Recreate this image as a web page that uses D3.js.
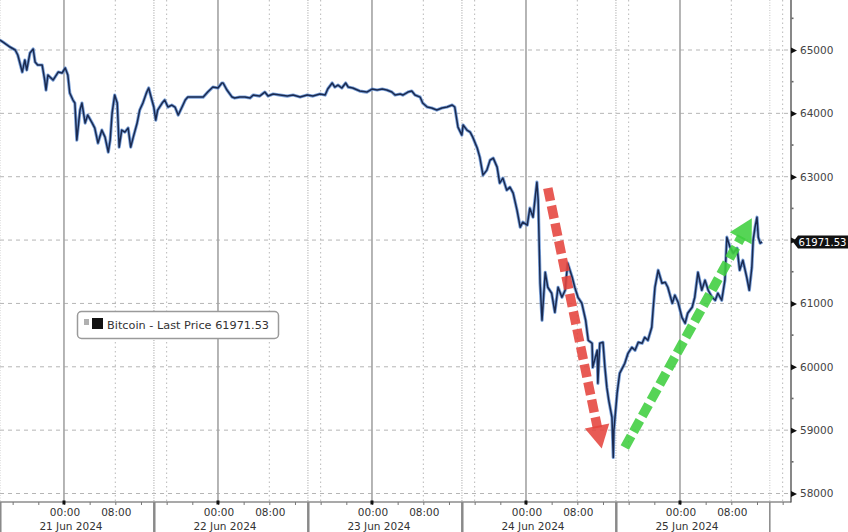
<!DOCTYPE html>
<html><head><meta charset="utf-8">
<script src="https://cdn.jsdelivr.net/npm/d3@7/dist/d3.min.js"></script>
<style>
html,body{margin:0;padding:0;background:#fff;}
svg{display:block;font-family:"DejaVu Sans",Verdana,sans-serif;}
</style></head>
<body><svg id="c" width="848" height="532"></svg>
<script>
// hours since 21 Jun 2024 00:00 (UTC)
const hoursFromStart = [
-10.0,-9.5,-8.4,-7.6,-7.2,-6.5,-6.1,-5.8,-5.3,-4.8,-4.5,-4.1,-3.4,-3.0,-2.8,-2.5,-1.7,-0.9,-0.3,0.2,
0.6,0.9,1.4,1.7,2.0,2.5,2.8,3.3,3.7,4.4,4.8,5.3,5.9,6.4,6.9,7.2,7.5,7.9,8.3,8.6,
9.0,9.5,10.0,10.4,10.8,11.4,11.8,12.3,12.9,13.2,13.7,14.0,14.3,14.6,15.3,15.7,16.2,16.8,17.3,17.8,
18.4,18.9,19.3,20.1,20.9,21.7,22.4,23.2,24.0,24.6,24.8,25.4,26.2,26.6,27.4,28.2,29.0,
29.5,30.5,31.3,31.8,32.6,33.7,34.8,35.7,36.8,37.9,38.8,39.9,40.7,41.1,41.8,42.2,42.7,43.3,43.9,44.3,
45.0,46.1,47.2,48.0,48.8,49.6,50.3,51.1,51.6,52.4,52.8,53.6,54.2,54.7,55.5,55.9,56.6,57.3,58.1,58.9,
59.7,60.5,60.9,
61.4,62.0,62.2,62.8,63.3,63.7,64.4,64.8,65.3,65.9,66.4,66.9,67.5,67.9,68.4,69.0,69.5,70.0,70.6,71.1,
71.5,72.2,72.6,73.1,73.7,73.9,74.2,74.5,75.0,75.4,76.0,76.5,77.0,77.6,78.1,78.5,79.2,79.6,80.1,80.7,
81.3,81.7,82.3,82.4,83.1,83.2,83.5,84.0,84.3,84.6,84.9,85.4,85.6,85.7,86.2,86.6,87.4,87.9,88.5,89.0,
89.5,90.1,90.5,91.0,91.6,91.8,92.1,92.6,93.2,93.7,94.1,94.8,95.2,95.7,96.3,96.8,97.2,97.9,98.3,98.8,
99.4,99.9,100.4,101.0,101.5,101.9,102.5,103.0,103.3,103.8,104.3,104.9,105.3,105.8,106.4,106.8,107.2,107.4,107.7,108.0,
108.2,108.5,108.8
];
const bitcoinPrice = [
65158,65126,65047,65000,64921,64652,64842,64684,64953,65016,64810,64763,64763,64526,64368,64605,64526,64652,64637,64716,
64605,64321,64210,64163,63578,64052,64163,63847,63973,63847,63768,63531,63736,63625,63388,63578,64005,64289,64163,63467,
63736,63704,63768,63467,63625,63847,64052,64163,64336,64400,64210,64100,63894,64052,64163,64210,64100,64131,64100,63973,
64100,64210,64257,64257,64257,64257,64336,64415,64400,64479,64479,64368,64257,64242,64257,64257,64242,
64289,64273,64336,64273,64305,64289,64273,64289,64257,64289,64273,64305,64289,64384,64479,64415,64447,64400,64479,64415,
64400,64352,64336,64384,64368,64384,64368,64336,64289,64305,64289,64336,64352,64289,64257,64163,64100,64084,64052,64084,
64100,64131,64100,
63783,63657,63815,63736,63704,63625,63452,63309,63025,63104,63262,63294,63151,62899,62978,62788,62835,62741,62472,62203,
62282,62235,62504,62361,62914,62630,61319,60734,61492,61255,61161,60860,61255,61097,61208,61635,61413,61255,61097,61003,
60734,60418,60371,59991,60260,59739,60371,60386,59991,59675,59470,59201,58569,58996,59581,59897,60055,60213,60307,60260,
60386,60371,60465,60418,60623,60892,61255,61524,61319,61334,61255,61003,61129,61018,60781,60687,60845,60939,61097,61492,
61208,61366,61208,61097,61050,61161,61050,61366,62045,61887,61793,61871,61524,61682,61413,61208,61571,61998,62203,62361,
62045,61951,61971.53
];
const priceTicks = [58000,59000,60000,61000,62000,63000,64000,65000];
const dayLabels = ["21 Jun 2024","22 Jun 2024","23 Jun 2024","24 Jun 2024","25 Jun 2024"];
const timeLabels = ["00:00","08:00"];
const lastPrice = 61971.53;
const legendText = "Bitcoin - Last Price 61971.53";
// annotation arrows: [startHour, startPrice, endHour, endPrice]
const redArrow = [75.4, 62820, 83.8, 58711];
const greenArrow = [87.4, 58727, 107.2, 62346];

const H = 3600e3;
const base = Date.UTC(2024,5,21,0,0);
const toDate = h => new Date(base + h*H);

const svg = d3.select("#c");
const plotRight = 791, plotBottom = 502;
const x = d3.scaleUtc().domain([toDate(-9.97), toDate(113.3)]).range([0, plotRight]);
const y = d3.scaleLinear().domain([58000, 65000]).range([493.5, 50]);

// horizontal grid
svg.append("g").selectAll("line").data(priceTicks).join("line")
  .attr("x1",0).attr("x2",plotRight).attr("y1",d=>y(d)).attr("y2",d=>y(d))
  .attr("stroke","#b5b5b5").attr("stroke-width",1).attr("stroke-dasharray","4,4");

// vertical grids
const days = d3.range(0,5);
const g = svg.append("g");
days.forEach(d=>{
  [8,16].forEach(hh=>{
    const xx = x(toDate(d*24+hh));
    if (xx < plotRight) g.append("line").attr("x1",xx).attr("x2",xx).attr("y1",0).attr("y2",plotBottom)
      .attr("stroke","#b8b8b8").attr("stroke-width",1).attr("stroke-dasharray","1.5,3");
  });
  [-10+0.03, 14].forEach(hh=>{
    const xx = x(toDate(d*24+hh));
    if (xx>=0 && xx < plotRight) g.append("line").attr("x1",xx).attr("x2",xx).attr("y1",0).attr("y2",plotBottom)
      .attr("stroke","#c4c4c4").attr("stroke-width",1).attr("stroke-dasharray","1,1.5");
  });
  const x0 = x(toDate(d*24));
  g.append("line").attr("x1",x0).attr("x2",x0).attr("y1",0).attr("y2",plotBottom)
    .attr("stroke","#a3a3a3").attr("stroke-width",1.6);
});

// price line
const data = hoursFromStart.map((h,i)=>({t:toDate(h), v:bitcoinPrice[i]}));
const line = d3.line().x(d=>x(d.t)).y(d=>y(d.v));
svg.append("path").datum(data).attr("d",line).attr("fill","none")
  .attr("stroke","#5a8ad0").attr("stroke-width",3.2).attr("stroke-linejoin","round").attr("opacity",0.8);
svg.append("path").datum(data).attr("d",line).attr("fill","none")
  .attr("stroke","#1a2a50").attr("stroke-width",1.5).attr("stroke-linejoin","round");

// arrows
function arrow(a, color){
  const x1=x(toDate(a[0])), y1=y(a[1]), x2=x(toDate(a[2])), y2=y(a[3]);
  const dx=x2-x1, dy=y2-y1, L=Math.hypot(dx,dy), ux=dx/L, uy=dy/L, px=-uy, py=ux;
  const headL=23, headW=12.5;
  const bx=x2-ux*headL, by=y2-uy*headL;
  svg.append("line").attr("x1",x1).attr("y1",y1).attr("x2",bx+ux*2).attr("y2",by+uy*2)
    .attr("stroke",color).attr("stroke-width",9.5).attr("stroke-dasharray","13,5").attr("opacity",0.88);
  svg.append("path").attr("d",`M${x2},${y2}L${bx+px*headW},${by+py*headW}L${bx-px*headW},${by-py*headW}Z`)
    .attr("fill",color).attr("opacity",0.88);
}
arrow(redArrow, "#e5443d");
arrow(greenArrow, "#3fcf3f");

// bottom axis
svg.append("line").attr("x1",0).attr("x2",plotRight).attr("y1",plotBottom).attr("y2",plotBottom)
  .attr("stroke","#555").attr("stroke-width",1.2);
const xAxis = d3.axisBottom(x).ticks(d3.utcHour.every(4)).tickSize(3).tickFormat("");
const xa = svg.append("g").attr("transform",`translate(0,${plotBottom})`).call(xAxis);
xa.select(".domain").remove();
xa.selectAll(".tick line").attr("stroke","#777");
days.forEach((d,i)=>{
  const x0 = x(toDate(d*24));
  svg.append("rect").attr("x",x0-1.5).attr("y",plotBottom-1.5).attr("width",3).attr("height",4).attr("fill","#111");
  timeLabels.forEach((t,j)=>{
    svg.append("text").attr("x",x(toDate(d*24+j*8))+1).attr("y",516).attr("text-anchor","middle")
      .attr("font-size","10.5px").attr("fill","#333").text(t);
  });
  svg.append("text").attr("x",x0+7).attr("y",529.5).attr("text-anchor","middle")
    .attr("font-size","10.5px").attr("fill","#333").text(dayLabels[i]);
  [-10+0.15, 14].forEach(hh=>{
    const xx = x(toDate(d*24+hh));
    if (xx>=0 && xx<plotRight) svg.append("line").attr("x1",xx).attr("x2",xx).attr("y1",plotBottom).attr("y2",532)
      .attr("stroke","#888").attr("stroke-width",1.5);
  });
});

// right axis
svg.append("line").attr("x1",plotRight).attr("x2",plotRight).attr("y1",0).attr("y2",plotBottom+0.6)
  .attr("stroke","#555").attr("stroke-width",1.4);
const minor = d3.range(58500, 65600, 1000);
svg.append("g").selectAll("rect").data(minor).join("rect")
  .attr("x",plotRight+0.5).attr("y",d=>y(d)-0.8).attr("width",2).attr("height",1.6).attr("fill","#666");
const yAxis = d3.axisRight(y).tickValues(priceTicks).tickSize(0).tickPadding(9)
  .tickFormat(d => Math.abs(d - lastPrice) < 300 ? "" : d3.format("d")(d));
const ya = svg.append("g").attr("transform",`translate(${plotRight},0)`).call(yAxis);
ya.select(".domain").remove();
ya.selectAll(".tick text").attr("font-size","10.5px").attr("fill","#444").attr("font-family","DejaVu Sans, sans-serif");
ya.selectAll(".tick").append("path").attr("d","M0,-3L6,0L0,3Z").attr("fill","#111");

// last price tag
const ly = y(lastPrice);
svg.append("path").attr("d",`M${plotRight+2},${ly}L${plotRight+7},${ly-6.5}L848,${ly-6.5}L848,${ly+6.5}L${plotRight+7},${ly+6.5}Z`)
  .attr("fill","#111");
svg.append("text").attr("x",plotRight+7.5).attr("y",ly+3.8).attr("font-size","10px").attr("fill","#fff")
  .attr("textLength",48).attr("lengthAdjust","spacingAndGlyphs").text(d3.format(".2f")(lastPrice));

// legend
const lg = svg.append("g");
lg.append("rect").attr("x",77.5).attr("y",311.5).attr("width",201).attr("height",27).attr("rx",4)
  .attr("fill","#fff").attr("stroke","#9a9a9a").attr("stroke-width",1.5);
lg.append("rect").attr("x",84).attr("y",319).attr("width",5).attr("height",6).attr("fill","#b0b0b0");
lg.append("rect").attr("x",92).attr("y",318).attr("width",11).attr("height",11).attr("fill","#111");
lg.append("text").attr("x",107).attr("y",328.5).attr("font-size","11px").attr("fill","#333")
  .attr("textLength",162).attr("lengthAdjust","spacingAndGlyphs").text(legendText);
</script></body></html>
